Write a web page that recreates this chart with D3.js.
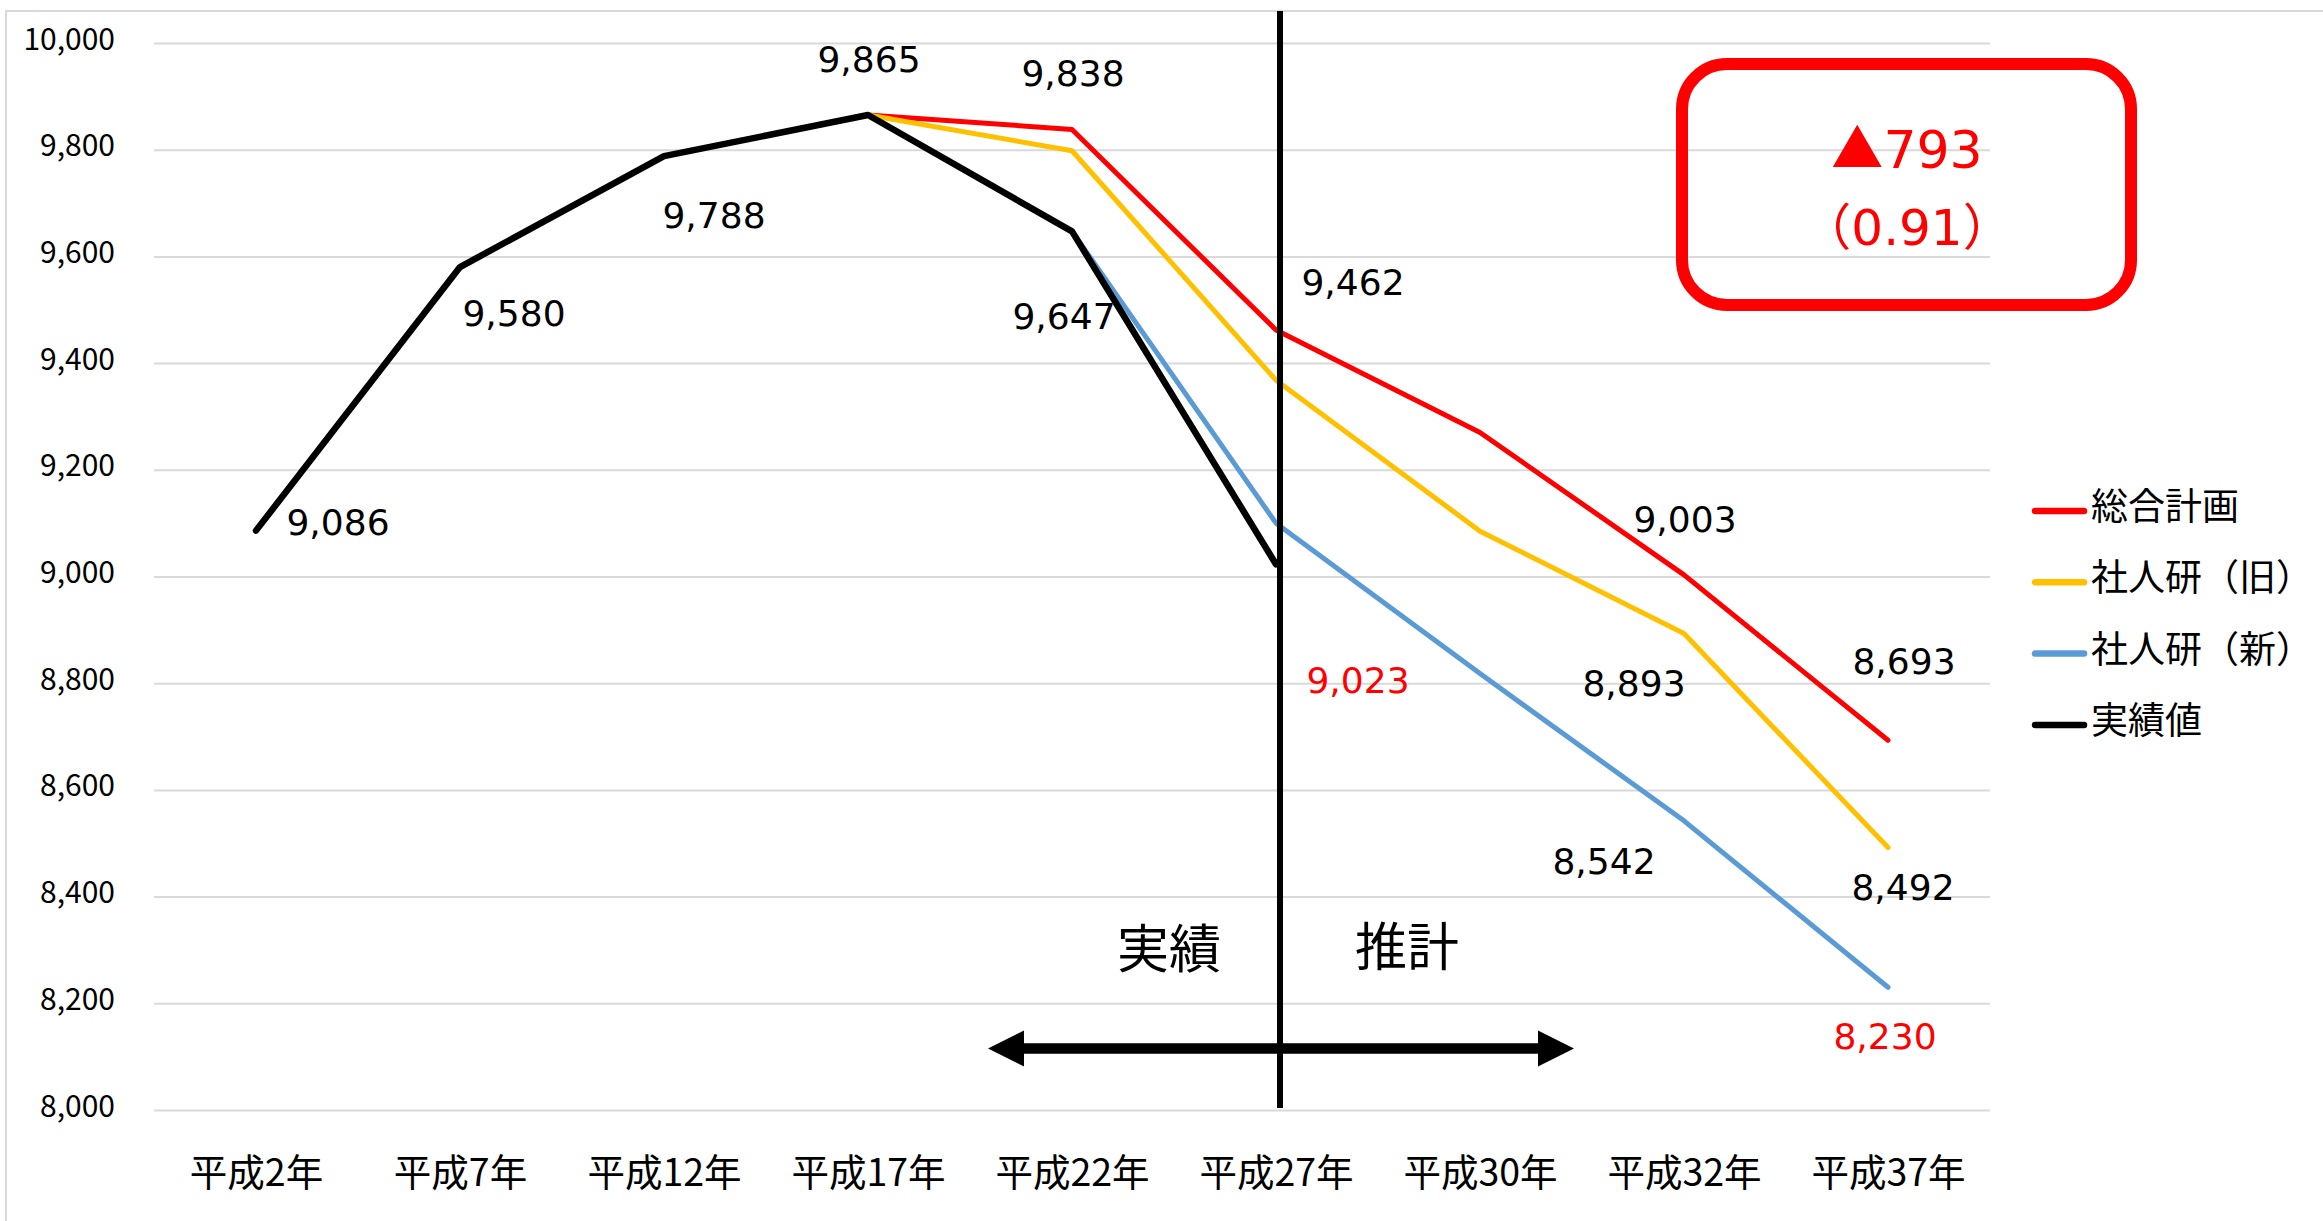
<!DOCTYPE html>
<html><head><meta charset="utf-8">
<script src="https://cdn.jsdelivr.net/npm/d3@7"></script>
<style>
html,body{margin:0;padding:0;background:#fff;}
svg{display:block;}
</style></head><body>
<svg id="chart" width="2323" height="1221"></svg>
<script>
// ---- data ----
const categories = ["平成2年","平成7年","平成12年","平成17年","平成22年","平成27年","平成30年","平成32年","平成37年"];
const seriesNames = ["総合計画","社人研（旧）","社人研（新）","実績値"];
const plan    = [null, null, null, 9865, 9838, 9462, 9270, 9003, 8693];
const ipssOld = [null, null, null, 9865, 9798, 9368, 9085, 8893, 8492];
const ipssNew = [null, null, null, null, 9647, 9100, 8818, 8542, 8230];
const actual  = [9086, 9580, 9788, 9865, 9647, 9023, null, null, null];
const yTicks  = [8000, 8200, 8400, 8600, 8800, 9000, 9200, 9400, 9600, 9800, 10000];
const periodLabels = ["実績", "推計"];
const boxMark = "▲";
const boxValue = "793";
const boxRatio = "0.91";

// ---- styles / layout ----
const colors = {plan:"#FF0000", ipssOld:"#FFC000", ipssNew:"#5B9BD5", actual:"#000000"};
const widths = {plan:5, ipssOld:5, ipssNew:5, actual:6.5};
const seriesData = {plan, ipssOld, ipssNew, actual};
const seriesKeys = ["plan","ipssOld","ipssNew","actual"];
const JP = "'Noto Sans CJK JP', 'Noto Sans', sans-serif";
const NUM = "'DejaVu Sans', sans-serif";

const svg = d3.select("#chart");
const plotL = 154, plotR = 1990, plotT = 43, plotB = 1110;

const x = d3.scalePoint().domain(categories).range([plotL, plotR]).padding(0.5);
const y = d3.scaleLinear().domain([8000, 10000]).range([plotB, plotT]);

// outer border
svg.append("rect").attr("x",6).attr("y",11).attr("width",2400).attr("height",1400)
  .attr("fill","none").attr("stroke","#d9d9d9").attr("stroke-width",2);

// y axis with gridlines
const yAxis = d3.axisLeft(y).tickValues(yTicks).tickFormat(d3.format(","))
  .tickSize(-(plotR-plotL)).tickPadding(39);
const gy = svg.append("g").attr("transform",`translate(${plotL},0)`).call(yAxis);
gy.select(".domain").remove();
gy.selectAll(".tick line").attr("stroke","#d9d9d9").attr("stroke-width",2);
gy.selectAll(".tick text").attr("font-family",JP).attr("font-size",30)
  .attr("fill","#000").attr("dy",6);

// x axis labels
const xAxis = d3.axisBottom(x).tickSize(0).tickPadding(0);
const gx = svg.append("g").attr("transform",`translate(0,${plotB})`).call(xAxis);
gx.select(".domain").remove();
gx.selectAll(".tick text").attr("font-family",JP).attr("font-size",37.5)
  .attr("fill","#000").attr("dy",null).attr("y",76);

// lines
const line = d3.line()
  .defined(d => d != null)
  .x((d,i) => x(categories[i]))
  .y(d => y(d));
seriesKeys.forEach(k => {
  svg.append("path").datum(seriesData[k])
    .attr("d", line)
    .attr("fill","none")
    .attr("stroke", colors[k])
    .attr("stroke-width", widths[k])
    .attr("stroke-linejoin","round")
    .attr("stroke-linecap","round");
});

// data labels
const labelSpecs = [
  {s:"actual", i:0, dx:82, dy:-9},
  {s:"actual", i:1, dx:54, dy:46},
  {s:"actual", i:2, dx:50, dy:59},
  {s:"actual", i:3, dx:1, dy:-56},
  {s:"plan", i:4, dx:1, dy:-56},
  {s:"actual", i:4, dx:-8, dy:85},
  {s:"plan", i:5, dx:77, dy:-48},
  {s:"actual", i:5, dx:82, dy:116, red:true},
  {s:"plan", i:7, dx:1, dy:-56},
  {s:"ipssOld", i:7, dx:-50, dy:49},
  {s:"ipssNew", i:7, dx:-80, dy:40},
  {s:"plan", i:8, dx:16, dy:-79},
  {s:"ipssOld", i:8, dx:15, dy:40},
  {s:"ipssNew", i:8, dx:-3, dy:49, red:true}
];
const fmt = d3.format(",");
svg.append("g").selectAll("text").data(labelSpecs).join("text")
  .attr("x", d => x(categories[d.i]) + d.dx)
  .attr("y", d => y(seriesData[d.s][d.i]) + d.dy)
  .attr("dy","0.36em")
  .attr("text-anchor","middle")
  .attr("font-family",NUM).attr("font-size",36)
  .attr("fill", d => d.red ? "#FF0000" : "#000")
  .text(d => fmt(seriesData[d.s][d.i]));

// divider line between actual and estimate
const vx = x("平成27年") + 4;
svg.append("line").attr("x1",vx).attr("x2",vx).attr("y1",11).attr("y2",plotB-2)
  .attr("stroke","#000").attr("stroke-width",6);

// period labels
svg.append("text").attr("x", vx-111).attr("y", 968).attr("text-anchor","middle")
  .attr("font-family",JP).attr("font-size",52).attr("fill","#000").text(periodLabels[0]);
svg.append("text").attr("x", vx+127).attr("y", 966).attr("text-anchor","middle")
  .attr("font-family",JP).attr("font-size",52).attr("fill","#000").text(periodLabels[1]);

// double arrow
const ay = 1048.5, aL = vx-292, aR = vx+294, head = 36, hh = 18, sh = 5.2;
const arrowPts = [
  [aL, ay], [aL+head, ay-hh], [aL+head, ay-sh], [aR-head, ay-sh], [aR-head, ay-hh],
  [aR, ay], [aR-head, ay+hh], [aR-head, ay+sh], [aL+head, ay+sh], [aL+head, ay+hh]
];
svg.append("path").attr("d", d3.line()(arrowPts) + "Z").attr("fill","#000");

// red callout box
svg.append("rect").attr("x",1682).attr("y",64).attr("width",449).attr("height",241)
  .attr("rx",45).attr("ry",45).attr("fill","none").attr("stroke","#FF0000").attr("stroke-width",12);
const t1 = svg.append("text").attr("x",1907).attr("y",168).attr("text-anchor","middle")
  .attr("fill","#FF0000").attr("font-size",52);
t1.append("tspan").attr("font-family",JP).text(boxMark);
t1.append("tspan").attr("font-family",NUM).text(boxValue);
const t2 = svg.append("text").attr("x",1907).attr("y",245).attr("text-anchor","middle")
  .attr("fill","#FF0000").attr("font-size",50);
t2.append("tspan").attr("font-family",JP).text("（");
t2.append("tspan").attr("font-family",NUM).text(boxRatio);
t2.append("tspan").attr("font-family",JP).text("）");

// legend
const legY0 = 511, legStep = 71.3;
const leg = svg.append("g").selectAll("g").data(seriesKeys).join("g")
  .attr("transform",(d,i)=>`translate(0,${legY0 + i*legStep})`);
leg.append("line").attr("x1",2035).attr("x2",2084).attr("y1",0).attr("y2",0)
  .attr("stroke", d => colors[d]).attr("stroke-width",6.5).attr("stroke-linecap","round");
leg.append("text").attr("x",2091).attr("y",9)
  .attr("font-family",JP).attr("font-size",37).attr("fill","#000")
  .text((d,i) => seriesNames[i]);
</script>
</body></html>
